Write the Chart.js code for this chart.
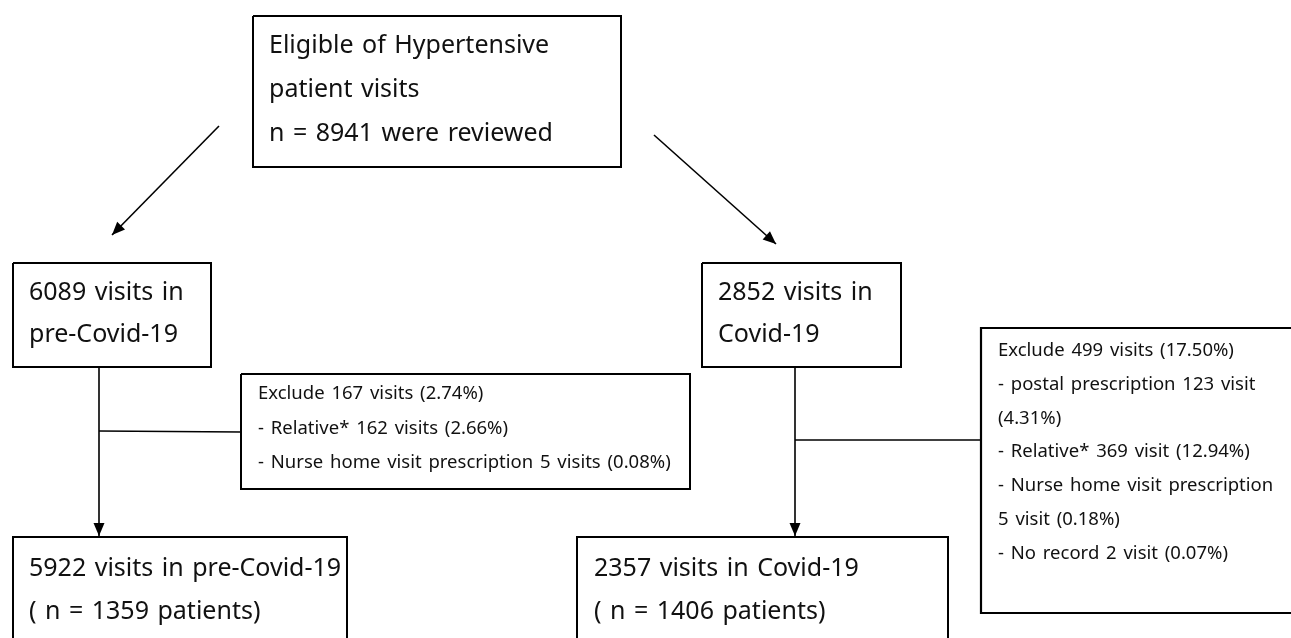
<!DOCTYPE html>
<html>
<head>
<meta charset="utf-8">
<script src="https://cdn.jsdelivr.net/npm/chart.js@4/dist/chart.umd.min.js"></script>
<style>
  html, body { margin: 0; padding: 0; background: #fff; }
  #wrap { width: 1291px; height: 638px; }
</style>
</head>
<body>
<div id="wrap"><canvas id="flow"></canvas></div>
<script>
// text of each box in the flow diagram
const topLines = ['Eligible of Hypertensive', 'patient visits', 'n = 8941 were reviewed']
const preLines = ['6089 visits in', 'pre-Covid-19']
const covidLines = ['2852 visits in', 'Covid-19']
const excludePreLines = [
  'Exclude 167 visits (2.74%)',
  '- Relative* 162 visits (2.66%)',
  '- Nurse home visit prescription 5 visits (0.08%)'
]
const excludeCovidLines = [
  'Exclude 499 visits (17.50%)',
  '- postal prescription 123 visit',
  '(4.31%)',
  '- Relative* 369 visit (12.94%)',
  '- Nurse home visit prescription',
  '5 visit (0.18%)',
  '- No record 2 visit (0.07%)'
]
const finalPreLines = ['5922 visits in pre-Covid-19', '( n = 1359 patients)']
const finalCovidLines = ['2357 visits in Covid-19', '( n = 1406 patients)']

const W = 1291
const H = 638

// layout in page units (x right, y down)
function rect (x0, y0, x1, y1) {
  return [{ x: x0, y: y0 }, { x: x1, y: y0 }, { x: x1, y: y1 }, { x: x0, y: y1 }, { x: x0, y: y0 }]
}
function openBottom (x0, y0, x1) {
  return [{ x: x0, y: H + 5 }, { x: x0, y: y0 }, { x: x1, y: y0 }, { x: x1, y: H + 5 }]
}
function openRight (x0, y0, y1) {
  return [{ x: W + 5, y: y0 }, { x: x0, y: y0 }, { x: x0, y: y1 }, { x: W + 5, y: y1 }]
}

const shapes = [
  { pts: rect(253, 16, 621, 167), width: 2 },
  { pts: rect(13, 263, 211, 367), width: 2 },
  { pts: rect(702, 263, 901, 367), width: 2 },
  { pts: rect(241, 374, 690, 489), width: 2 },
  { pts: openRight(981, 328, 613), width: 2.2 },
  { pts: openBottom(13, 537, 347), width: 2 },
  { pts: openBottom(577, 537, 948), width: 2 },
  { pts: [{ x: 219, y: 126 }, { x: 112, y: 235 }], width: 1.6, arrow: true },
  { pts: [{ x: 654, y: 135 }, { x: 776, y: 244 }], width: 1.6, arrow: true },
  { pts: [{ x: 99, y: 367 }, { x: 99, y: 536 }], width: 1.6, arrow: true },
  { pts: [{ x: 99, y: 431 }, { x: 241, y: 432 }], width: 1.6 },
  { pts: [{ x: 795, y: 367 }, { x: 795, y: 536 }], width: 1.6, arrow: true },
  { pts: [{ x: 795, y: 440 }, { x: 981, y: 440 }], width: 1.6 }
]

const BIG = 25
const SMALL = 18.5
const blocks = [
  { lines: topLines, x: 269, y: 53, step: 44, size: BIG },
  { lines: preLines, x: 29, y: 300, step: 42, size: BIG },
  { lines: covidLines, x: 718, y: 300, step: 42, size: BIG },
  { lines: excludePreLines, x: 258, y: 399, step: 34.5, size: SMALL },
  { lines: excludeCovidLines, x: 998, y: 356, step: 33.8, size: SMALL },
  { lines: finalPreLines, x: 29, y: 576, step: 43, size: BIG },
  { lines: finalCovidLines, x: 594, y: 576, step: 43, size: BIG }
]

const FONT = '"Noto Sans", "Open Sans", sans-serif'

const arrowHeads = {
  id: 'arrowHeads',
  afterDatasetsDraw (chart) {
    const ctx = chart.ctx
    chart.data.datasets.forEach((ds, i) => {
      if (!ds.arrow) return
      const pts = chart.getDatasetMeta(i).data
      const a = pts[pts.length - 2]
      const b = pts[pts.length - 1]
      const ang = Math.atan2(b.y - a.y, b.x - a.x)
      const len = 13
      const half = 5.5
      ctx.save()
      ctx.fillStyle = '#000'
      ctx.beginPath()
      ctx.moveTo(b.x, b.y)
      ctx.lineTo(b.x - len * Math.cos(ang) + half * Math.sin(ang), b.y - len * Math.sin(ang) - half * Math.cos(ang))
      ctx.lineTo(b.x - len * Math.cos(ang) - half * Math.sin(ang), b.y - len * Math.sin(ang) + half * Math.cos(ang))
      ctx.closePath()
      ctx.fill()
      ctx.restore()
    })
  }
}

const boxText = {
  id: 'boxText',
  afterDraw (chart) {
    const ctx = chart.ctx
    const xs = chart.scales.x
    const ys = chart.scales.y
    ctx.save()
    ctx.fillStyle = '#111'
    ctx.textAlign = 'left'
    ctx.textBaseline = 'alphabetic'
    ctx.wordSpacing = '2px' // the source font has wide spaces
    blocks.forEach(b => {
      ctx.font = `${b.size}px ${FONT}`
      b.lines.forEach((t, k) => {
        ctx.fillText(t, xs.getPixelForValue(b.x), ys.getPixelForValue(b.y + k * b.step))
      })
    })
    ctx.restore()
  }
}

new Chart(document.getElementById('flow'), {
  type: 'scatter',
  data: {
    datasets: shapes.map(s => ({
      data: s.pts,
      showLine: true,
      borderColor: '#000',
      borderWidth: s.width,
      pointRadius: 0,
      fill: false,
      tension: 0,
      arrow: !!s.arrow
    }))
  },
  options: {
    responsive: true,
    maintainAspectRatio: false,
    animation: false,
    events: [],
    layout: { padding: 0 },
    plugins: { legend: { display: false }, tooltip: { enabled: false } },
    scales: {
      x: { type: 'linear', min: 0, max: W, display: false },
      y: { type: 'linear', min: 0, max: H, reverse: true, display: false }
    }
  },
  plugins: [arrowHeads, boxText]
})
</script>
</body>
</html>
